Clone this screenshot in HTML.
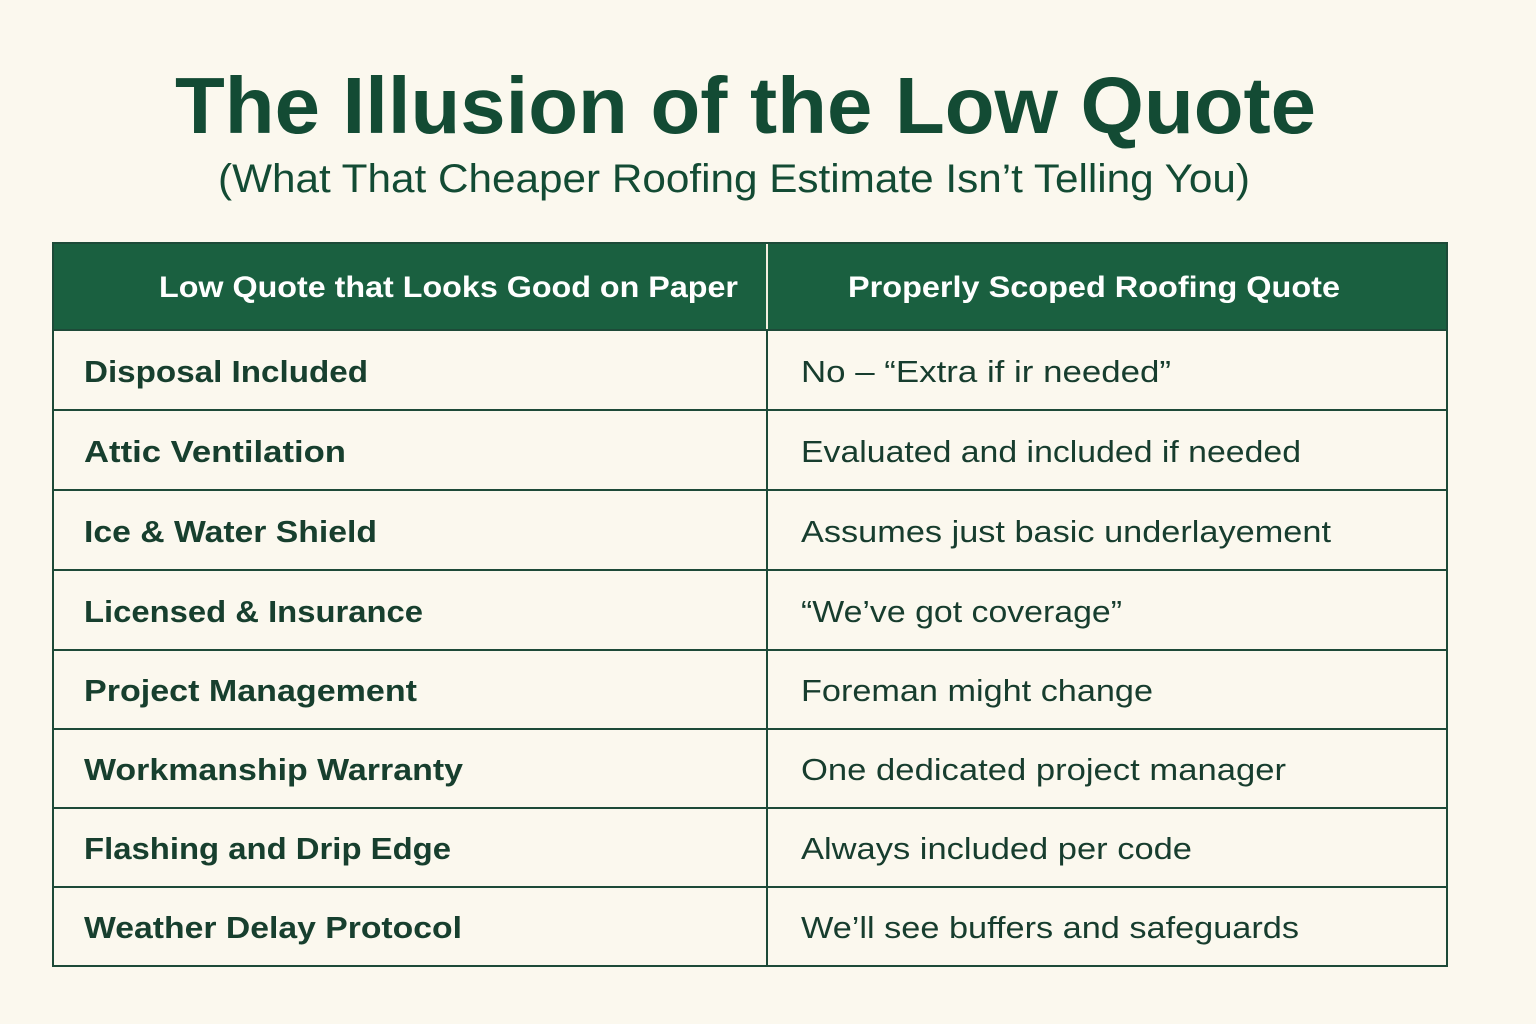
<!DOCTYPE html>
<html><head><meta charset="utf-8"><style>
html,body{margin:0;padding:0;background:#fbf8ee;}
svg{display:block;}
text{font-family:"Liberation Sans",sans-serif;}
</style></head><body>
<svg width="1536" height="1024" viewBox="0 0 1536 1024" xmlns="http://www.w3.org/2000/svg">
<rect width="1536" height="1024" fill="#fbf8ee"/>
<text x="175" y="133" font-size="80" font-weight="bold" fill="#134b34" textLength="1141" lengthAdjust="spacingAndGlyphs">The Illusion of the Low Quote</text>
<text x="218" y="192" font-size="40" fill="#134b34" textLength="1032" lengthAdjust="spacingAndGlyphs">(What That Cheaper Roofing Estimate Isn’t Telling You)</text>
<rect x="53" y="243" width="1394" height="87" fill="#1a6040"/>
<line x1="767" y1="243" x2="767" y2="330" stroke="#f4efe0" stroke-width="2"/>
<text x="159" y="297" font-size="30" font-weight="bold" fill="#ffffff" textLength="579" lengthAdjust="spacingAndGlyphs">Low Quote that Looks Good on Paper</text>
<text x="848" y="297" font-size="30" font-weight="bold" fill="#ffffff" textLength="492" lengthAdjust="spacingAndGlyphs">Properly Scoped Roofing Quote</text>
<g stroke="#1d4a38" stroke-width="2" fill="none">
<rect x="53" y="243" width="1394" height="723"/>
<line x1="767" y1="330" x2="767" y2="966"/>
<line x1="53" y1="330" x2="1447" y2="330"/>
<line x1="53" y1="410" x2="1447" y2="410"/>
<line x1="53" y1="490" x2="1447" y2="490"/>
<line x1="53" y1="570" x2="1447" y2="570"/>
<line x1="53" y1="650" x2="1447" y2="650"/>
<line x1="53" y1="729" x2="1447" y2="729"/>
<line x1="53" y1="808" x2="1447" y2="808"/>
<line x1="53" y1="887" x2="1447" y2="887"/>
</g>
<g font-size="31" font-weight="bold" fill="#173f2e">
<text x="84" y="382" textLength="284" lengthAdjust="spacingAndGlyphs">Disposal Included</text>
<text x="84" y="462" textLength="262" lengthAdjust="spacingAndGlyphs">Attic Ventilation</text>
<text x="84" y="542" textLength="293" lengthAdjust="spacingAndGlyphs">Ice &amp; Water Shield</text>
<text x="84" y="622" textLength="339" lengthAdjust="spacingAndGlyphs">Licensed &amp; Insurance</text>
<text x="84" y="701" textLength="333" lengthAdjust="spacingAndGlyphs">Project Management</text>
<text x="84" y="780" textLength="379" lengthAdjust="spacingAndGlyphs">Workmanship Warranty</text>
<text x="84" y="859" textLength="367" lengthAdjust="spacingAndGlyphs">Flashing and Drip Edge</text>
<text x="84" y="938" textLength="378" lengthAdjust="spacingAndGlyphs">Weather Delay Protocol</text>
</g>
<g font-size="31" fill="#173d2e">
<text x="801" y="382" textLength="370" lengthAdjust="spacingAndGlyphs">No – “Extra if ir needed”</text>
<text x="801" y="462" textLength="500" lengthAdjust="spacingAndGlyphs">Evaluated and included if needed</text>
<text x="801" y="542" textLength="530" lengthAdjust="spacingAndGlyphs">Assumes just basic underlayement</text>
<text x="801" y="622" textLength="321" lengthAdjust="spacingAndGlyphs">“We’ve got coverage”</text>
<text x="801" y="701" textLength="352" lengthAdjust="spacingAndGlyphs">Foreman might change</text>
<text x="801" y="780" textLength="485" lengthAdjust="spacingAndGlyphs">One dedicated project manager</text>
<text x="801" y="859" textLength="391" lengthAdjust="spacingAndGlyphs">Always included per code</text>
<text x="801" y="938" textLength="498" lengthAdjust="spacingAndGlyphs">We’ll see buffers and safeguards</text>
</g>
</svg>
</body></html>
